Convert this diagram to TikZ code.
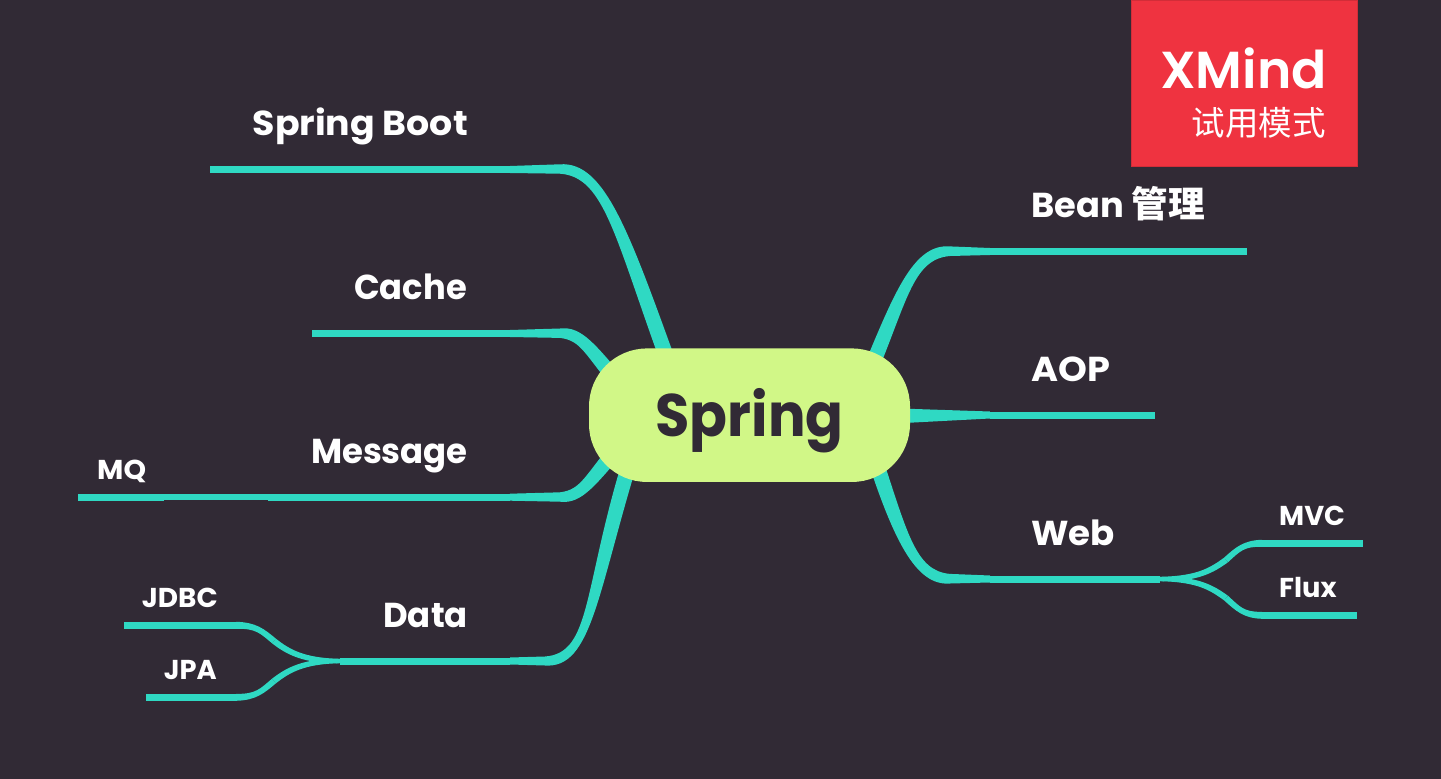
\documentclass[tikz,border=0pt]{standalone}
\usepackage{fontspec}
\usepackage{graphicx}
\setmainfont{Poppins}
\newfontfamily\semib{Poppins SemiBold}
\newfontfamily\cjkb{Noto Sans CJK SC Bold}
\newfontfamily\cjkr{Noto Sans CJK SC}
\usetikzlibrary{calc,backgrounds}
\definecolor{bgcol}{HTML}{312A35}
\definecolor{branchcol}{HTML}{2FD9C3}
\definecolor{rootcol}{HTML}{D1F787}
\definecolor{markcol}{HTML}{EF3340}
% tapered curve: start, control 1, control 2, end, half width at start, half width at end, half width at the controls
\newcommand{\taperseg}[7]{%
  \coordinate (T1) at (#2); \coordinate (T2) at (#3);
  \fill[branchcol]
    ($(#1)!#5!90:(T1)$)
    .. controls ($(T1)+($(#1)!#7!90:(T1)$)-(#1)$) and ($(T2)+($(#4)!#7!-90:(T2)$)-(#4)$) ..
    ($(#4)!#6!-90:(T2)$)
    -- ($(#4)!#6!90:(T2)$)
    .. controls ($(T2)+($(#4)!#7!90:(T2)$)-(#4)$) and ($(T1)+($(#1)!#7!-90:(T1)$)-(#1)$) ..
    ($(#1)!#5!-90:(T1)$) -- cycle;}
\newcommand{\taperline}[4]{%
  \fill[branchcol] ($(#1)!#3!90:(#2)$) -- ($(#2)!#4!-90:(#1)$) -- ($(#2)!#4!90:(#1)$) -- ($(#1)!#3!-90:(#2)$) -- cycle;}
\tikzset{
  topic/.style={inner sep=0pt,text=white,font=\fontsize{34.6}{35}\selectfont\bfseries},
  subtopic/.style={inner sep=0pt,text=white,font=\fontsize{27.3}{27}\selectfont\bfseries},
  underline/.style={branchcol,line width=7pt},
  thinline/.style={branchcol,line width=5.6pt},
  rootnode/.style={fill=rootcol,rounded corners=58pt,minimum width=321pt,minimum height=133.5pt,inner sep=0pt,anchor=center},
  marknode/.style={fill=markcol,draw=markcol!88!black,line width=.6pt,minimum width=225.4pt,minimum height=165.9pt,inner sep=0pt,anchor=north west}
}
\begin{document}
\begin{tikzpicture}[x=1pt,y=-1pt]
\useasboundingbox (0,0) rectangle (1441,779);
% root and labels
\node[rootnode] (root) at (749.5,415.2) {};
\node[inner sep=0pt,anchor=base,text=bgcol,font=\fontsize{60}{60}\selectfont\bfseries] (roottext) at (749.5,436) {\scalebox{.93}[1]{Spring}};
\node[topic,anchor=base east] (boot) at (468,135) {\scalebox{1.05}[1]{Spring Boot}};
\node[topic,anchor=base east] (cache) at (467,299) {\scalebox{.975}[1]{Cache}};
\node[topic,anchor=base east] (message) at (468,463) {\scalebox{.98}[1]{Message}};
\node[topic,anchor=base east] (data) at (468,627) {\scalebox{.98}[1]{Data}};
\node[topic,anchor=base west] (bean) at (1031,217) {\scalebox{1.02}[1]{Bean {\fontsize{36}{36}\selectfont\cjkb 管理}}};
\node[topic,anchor=base west] (aop) at (1031,381) {\scalebox{1.06}[1]{AOP}};
\node[topic,anchor=base west] (web) at (1031,545) {\scalebox{1.03}[1]{Web}};
\node[subtopic,anchor=base west] (mq) at (97,479) {\scalebox{1.05}[1]{MQ}};
\node[subtopic,anchor=base east] (jdbc) at (218,607) {\scalebox{1.02}[1]{JDBC}};
\node[subtopic,anchor=base east] (jpa) at (217,679) {JPA};
\node[subtopic,anchor=base west] (mvc) at (1279,525) {MVC};
\node[subtopic,anchor=base west] (flux) at (1279,597) {Flux};
% junction coordinates
\coordinate (rBoot) at (672,372); \coordinate (hBoot) at (560,169);
\coordinate (jBoot) at (510,169.5); \coordinate (eBoot) at (210,169.5);
\coordinate (rCache) at (622,387); \coordinate (hCache) at (560,333.2);
\coordinate (jCache) at (510,333.5); \coordinate (eCache) at (312,333.5);
\coordinate (rMsg) at (622,443); \coordinate (hMsg) at (560,497);
\coordinate (jMsg) at (510,497.2); \coordinate (eMsg) at (268,497.2);
\coordinate (kMq) at (164,497.2); \coordinate (eMq) at (78,497.2);
\coordinate (rData) at (632,455); \coordinate (hData) at (545,661);
\coordinate (jData) at (510,661); \coordinate (eData) at (340,661);
\coordinate (rBean) at (866,380); \coordinate (hBean) at (950,251.2);
\coordinate (jBean) at (990,251.5); \coordinate (eBean) at (1247,251.5);
\coordinate (rAop) at (885,416); \coordinate (jAop) at (990,415); \coordinate (eAop) at (1155,415);
\coordinate (rWeb) at (872,450); \coordinate (hWeb) at (950,578.7);
\coordinate (jWeb) at (990,579); \coordinate (eWeb) at (1160,579);
\coordinate (mJdbc) at (274,641); \coordinate (kJdbc) at (236,625.3); \coordinate (eJdbc) at (124,625.3);
\coordinate (mJpa) at (274,681); \coordinate (kJpa) at (236,697.3); \coordinate (eJpa) at (146,697.3);
\coordinate (mMvc) at (1226,560); \coordinate (kMvc) at (1262,543.3); \coordinate (eMvc) at (1363,543.3);
\coordinate (mFlux) at (1226,598); \coordinate (kFlux) at (1262,615.3); \coordinate (eFlux) at (1357,615.3);
\begin{scope}[on background layer]
\fill[bgcol] (0,0) rectangle (1441,779);
% Spring Boot
\taperseg{rBoot}{622,235}{605,169}{hBoot}{7.5pt}{4.7pt}{7.8pt}
\taperline{hBoot}{jBoot}{4.7pt}{3.5pt}
\draw[underline] (jBoot) -- (eBoot);
% Cache
\taperseg{rCache}{590,350}{582,333.2}{hCache}{7.4pt}{4.7pt}{7.4pt}
\taperline{hCache}{jCache}{4.7pt}{3.5pt}
\draw[underline] (jCache) -- (eCache);
% Message
\taperseg{rMsg}{590,480}{582,497}{hMsg}{7.4pt}{4.7pt}{7.4pt}
\taperline{hMsg}{jMsg}{4.7pt}{3.5pt}
\draw[underline] (jMsg) -- (eMsg);
\draw[thinline] (eMsg) -- (kMq);
\draw[underline] (kMq) -- (eMq);
% Data
\taperseg{rData}{590,590}{592,661}{hData}{7.5pt}{4.5pt}{7.8pt}
\taperline{hData}{jData}{4.5pt}{3.5pt}
\draw[underline] (jData) -- (eData);
% JDBC, JPA
\taperseg{eData}{304,661}{288,652}{mJdbc}{2.2pt}{3pt}{3pt}
\taperseg{mJdbc}{262,631}{256,625.3}{kJdbc}{3pt}{3.5pt}{3pt}
\draw[underline] (kJdbc) -- (eJdbc);
\taperseg{eData}{304,661}{288,670}{mJpa}{2.2pt}{3pt}{3pt}
\taperseg{mJpa}{262,691}{256,697.3}{kJpa}{3pt}{3.5pt}{3pt}
\draw[underline] (kJpa) -- (eJpa);
% Bean
\taperseg{rBean}{900,300}{912,251.2}{hBean}{7.5pt}{4.8pt}{7.8pt}
\taperline{hBean}{jBean}{4.8pt}{3.5pt}
\draw[underline] (jBean) -- (eBean);
% AOP
\taperline{rAop}{jAop}{8pt}{3.5pt}
\draw[underline] (jAop) -- (eAop);
% Web
\taperseg{rWeb}{900,535}{915,578.7}{hWeb}{7.5pt}{4.8pt}{7.8pt}
\taperline{hWeb}{jWeb}{4.8pt}{3.5pt}
\draw[underline] (jWeb) -- (eWeb);
% MVC, Flux
\taperseg{eWeb}{1198,579}{1212,570}{mMvc}{2.2pt}{3pt}{3pt}
\taperseg{mMvc}{1238,549}{1244,543.3}{kMvc}{3pt}{3.5pt}{3pt}
\draw[underline] (kMvc) -- (eMvc);
\taperseg{eWeb}{1198,579}{1212,588}{mFlux}{2.2pt}{3pt}{3pt}
\taperseg{mFlux}{1238,609}{1244,615.3}{kFlux}{3pt}{3.5pt}{3pt}
\draw[underline] (kFlux) -- (eFlux);
\end{scope}
% trial-mode mark
\node[marknode] (mark) at (1131.3,0.3) {};
\node[inner sep=0pt,anchor=base east,text=white,font=\fontsize{52}{52}\selectfont\semib] (marktitle) at (1327,88) {XMind};
\node[inner sep=0pt,anchor=base east,text=white,font=\fontsize{33.5}{33.5}\selectfont\cjkr] (marksub) at (1326,135) {试用模式};
\end{tikzpicture}
\end{document}
